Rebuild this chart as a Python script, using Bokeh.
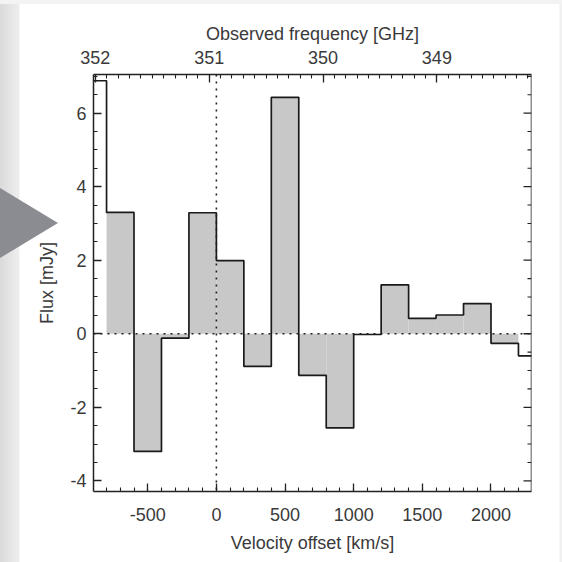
import math
from bokeh.plotting import figure
from bokeh.models import (Range1d, LinearAxis, SingleIntervalTicker, Span,
                          NumeralTickFormatter)
from bokeh.embed import file_html
from bokeh.resources import INLINE

# ---- data ----
vel_edges = [-1000, -800, -600, -400, -200, 0, 200, 400, 600, 800, 1000,
             1200, 1400, 1600, 1800, 2000, 2200, 2400]
flux = [6.88, 3.30, -3.20, -0.12, 3.29, 1.99, -0.89, 6.43, -1.13, -2.56,
        -0.02, 1.33, 0.42, 0.51, 0.82, -0.26, -0.60]
filled = [False] + [True] * 15 + [False]

vel_range = (-895, 2295)
flux_range = (-4.29, 7.05)
freq_range = (352.016, 348.169)   # observed frequency at the two x-limits
flux_major = [-4, -2, 0, 2, 4, 6]
flux_minor_step = 0.5

FONT = "Liberation Sans"
TXT = "#3a3a3a"
AX = "#222222"

page_bg = ("url(\"data:image/svg+xml;utf8,<svg xmlns='http://www.w3.org/2000/svg' "
           "width='562' height='562'><polygon points='0,188 58,223 0,258' "
           "fill='%238a8c91'/></svg>\") 0 0 / 562px 562px no-repeat, "
           "linear-gradient(#f3f3f3, #f3f3f3) 0 0 / 100% 4px no-repeat, "
           "linear-gradient(to right, #dadada 0px, #eeeeee 19px, #ffffff 20px, "
           "#ffffff 559px, #eeeeee 560px, #f3f3f3 562px)")

p = figure(width=562, height=562,
           x_range=Range1d(*vel_range), y_range=Range1d(*flux_range),
           output_backend="svg", toolbar_location=None,
           min_border_left=93, min_border_right=31,
           min_border_top=74, min_border_bottom=71,
           styles={"background": page_bg})
p.grid.visible = False
p.outline_line_color = None
p.border_fill_color = None
p.background_fill_color = "white"

# filled bars (between 0 and the flux)
lefts = [vel_edges[i] for i in range(len(flux)) if filled[i]]
rights = [vel_edges[i + 1] for i in range(len(flux)) if filled[i]]
tops = [flux[i] for i in range(len(flux)) if filled[i]]
p.quad(left=lefts, right=rights, top=tops, bottom=0,
       fill_color="#c8c8c8", line_color=None)

# dotted reference lines
p.add_layout(Span(location=0, dimension="width", line_color="#222222",
                  line_width=1.6, line_dash="2 5"))
p.add_layout(Span(location=0, dimension="height", line_color="#222222",
                  line_width=1.6, line_dash="2 5"))

# histogram step outline
p.step(x=vel_edges, y=flux + [flux[-1]], mode="after",
       line_color="#1a1a1a", line_width=1.7)

# right-side ticks (no labels), drawn as rays pointing into the frame
n_lo = math.ceil(flux_range[0] / flux_minor_step)
n_hi = math.floor(flux_range[1] / flux_minor_step)
flux_minor = [k * flux_minor_step for k in range(n_lo, n_hi + 1)
              if k * flux_minor_step not in flux_major]
p.ray(x=[vel_range[1]] * len(flux_major), y=flux_major, length=8,
      length_units="screen", angle=math.pi, line_color=AX, line_width=1.3)
p.ray(x=[vel_range[1]] * len(flux_minor), y=flux_minor, length=4,
      length_units="screen", angle=math.pi, line_color=AX, line_width=1.1)

# axes styling
def style(ax):
    ax.axis_line_color = AX
    ax.axis_line_width = 1.5
    ax.major_tick_line_color = AX
    ax.minor_tick_line_color = AX
    ax.major_tick_line_width = 1.3
    ax.minor_tick_line_width = 1.1
    ax.major_tick_in = 8
    ax.major_tick_out = 0
    ax.minor_tick_in = 4
    ax.minor_tick_out = 0
    ax.major_label_text_font = FONT
    ax.major_label_text_font_size = "18px"
    ax.major_label_text_color = TXT
    ax.axis_label_text_font = FONT
    ax.axis_label_text_font_size = "18px"
    ax.axis_label_text_font_style = "normal"
    ax.axis_label_text_color = TXT
    ax.formatter = NumeralTickFormatter(format="0")

xb = p.xaxis[0]
xb.ticker = SingleIntervalTicker(interval=500, num_minor_ticks=5)
xb.axis_label = "Velocity offset [km/s]"
style(xb)
xb.major_label_standoff = 16
xb.axis_label_standoff = 9

yl = p.yaxis[0]
yl.ticker = SingleIntervalTicker(interval=2, num_minor_ticks=4)
yl.axis_label = "Flux [mJy]"
style(yl)
yl.major_label_standoff = 7
yl.axis_label_standoff = 10

p.extra_x_ranges = {"freq": Range1d(*freq_range)}
xt = LinearAxis(x_range_name="freq",
                ticker=SingleIntervalTicker(interval=1, num_minor_ticks=10),
                axis_label="Observed frequency [GHz]")
style(xt)
xt.major_label_standoff = 11
xt.axis_label_standoff = 4
p.add_layout(xt, "above")

# right frame line
p.add_layout(Span(location=vel_range[1], dimension="height",
                  line_color=AX, line_width=1.5))

open("out.html", "w").write(file_html(p, INLINE))
